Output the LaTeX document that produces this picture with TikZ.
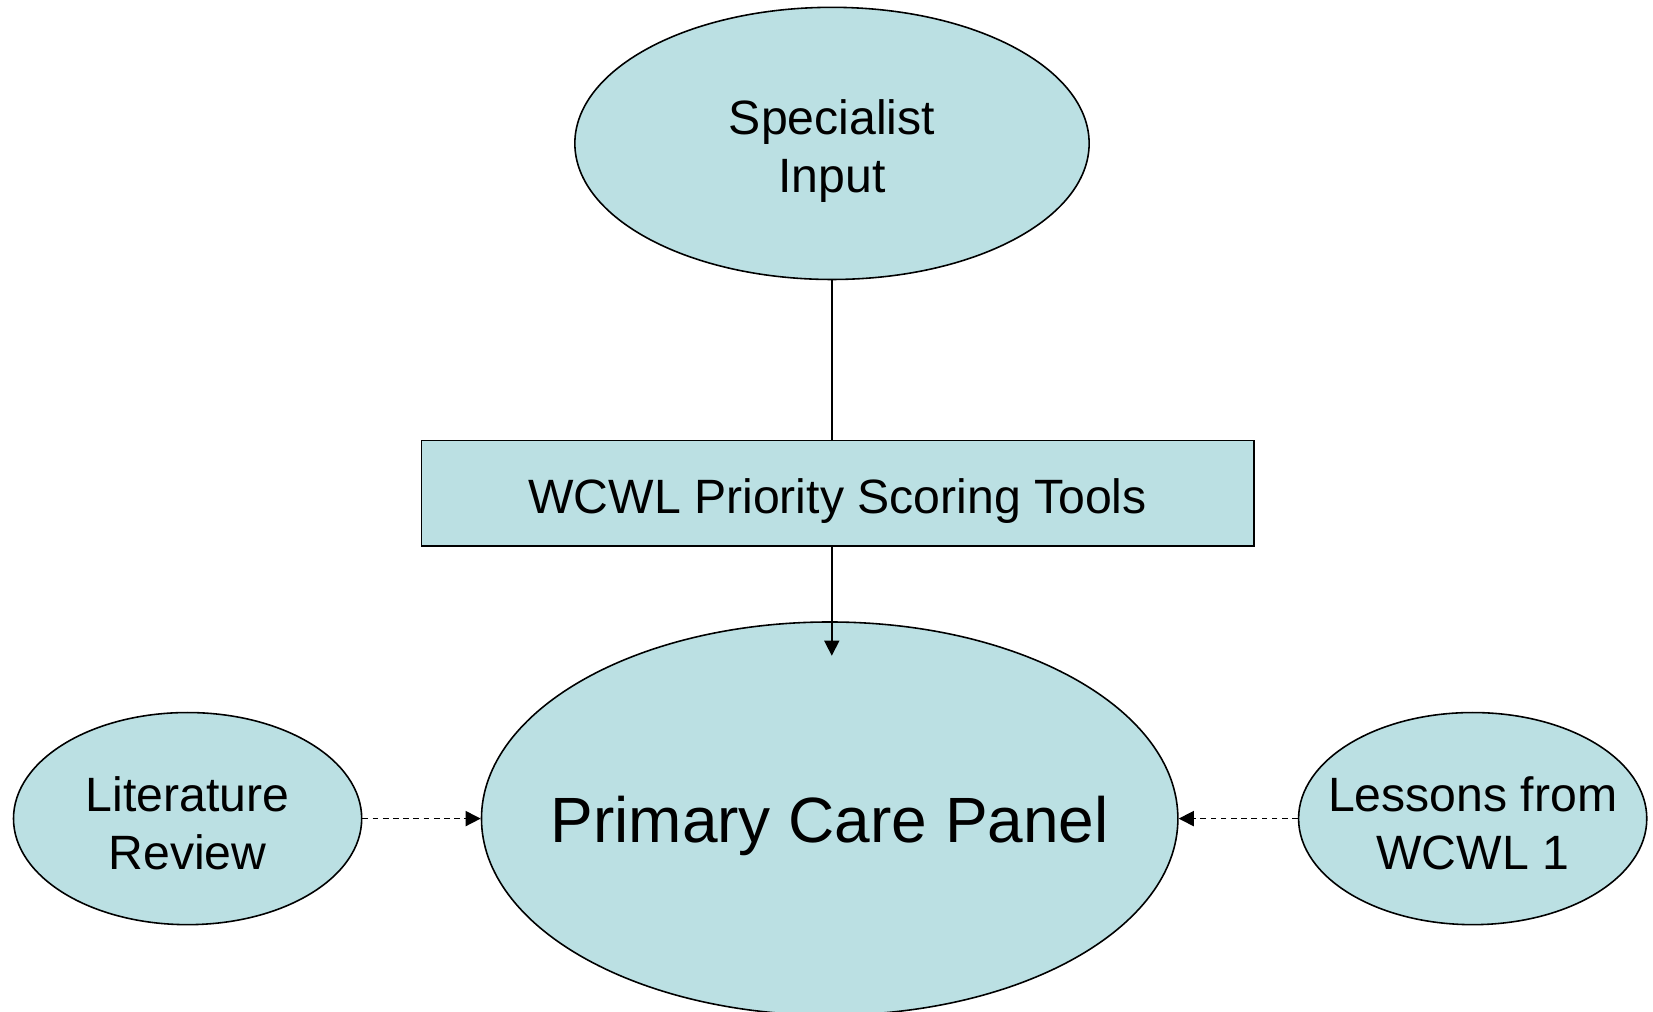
\documentclass[tikz,border=0pt]{standalone}
\usepackage{fontspec}
\setmainfont{Liberation Sans}
\usetikzlibrary{shapes.geometric,arrows.meta}
\definecolor{pbl}{RGB}{187,224,227}
\tikzset{
  oval/.style={ellipse,draw=black,fill=pbl,line width=0.45pt,inner sep=0pt},
  ovaltext/.style={align=center,inner sep=0pt,yshift=-0.075cm,font=\fontsize{13.7}{16.5}\selectfont},
  boxnode/.style={rectangle,draw=black,fill=pbl,line width=0.45pt,inner sep=0pt},
  conn/.style={line width=0.45pt},
  tip/.style={-{Triangle[length=4.3pt,width=4.3pt]}},
  dsh/.style={dash pattern=on 1.6pt off 1.3pt}
}
\begin{document}
\begin{tikzpicture}[x=0.01cm,y=-0.01cm]
\useasboundingbox (0,0) rectangle (1653,1012);
\node[oval,minimum width=5.14cm,minimum height=2.72cm,label={[ovaltext]center:Specialist\\Input}] (spec) at (832,143.4) {};
\node[boxnode,minimum width=8.32cm,minimum height=1.054cm,label={[ovaltext]center:WCWL Priority Scoring Tools}] (tools) at (837.6,493.4) {};
\node[oval,minimum width=6.96cm,minimum height=3.93cm,label={[ovaltext,font=\fontsize{18.2}{21}\selectfont]center:Primary Care Panel}] (panel) at (829.7,818.6) {};
\node[oval,minimum width=3.48cm,minimum height=2.12cm,label={[ovaltext,yshift=0.03cm]center:Literature\\Review}] (lit) at (187.6,818.6) {};
\node[oval,minimum width=3.48cm,minimum height=2.12cm,label={[ovaltext,yshift=0.03cm]center:Lessons from\\WCWL 1}] (less) at (1472.7,818.6) {};
\coordinate (tiptop) at (831.8,655.7);
\draw[conn] (spec.south) -- (spec.south |- tools.north);
\draw[conn,tip] (tiptop |- tools.south) -- (tiptop);
\draw[conn,tip,dsh] (lit.east) -- (panel.west);
\draw[conn,tip,dsh] (less.west) -- (panel.east);
\end{tikzpicture}
\end{document}
